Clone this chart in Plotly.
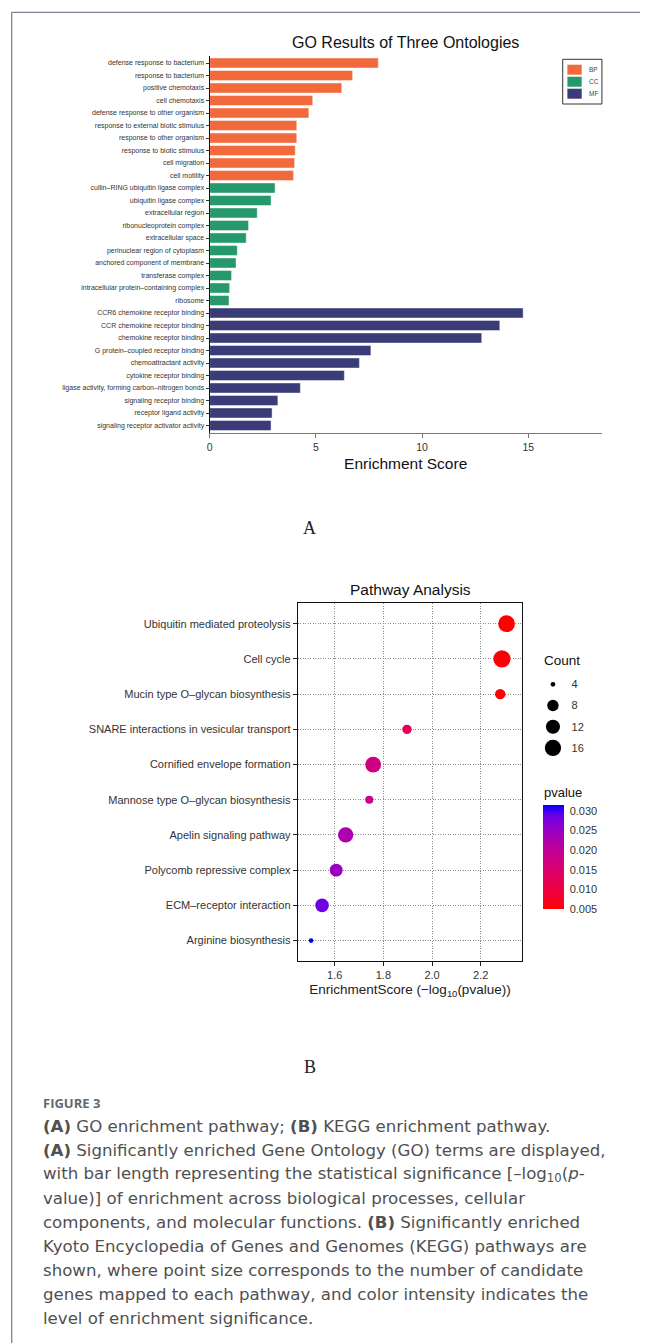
import numpy as np
import plotly.graph_objects as go

# page body has an 8px margin; the figure fills the rest of the 648x1343 window
OFF = 8
W, H = 648 - OFF, 1343 - OFF

# ---------------- DATA ----------------
go_terms = [
    "defense response to bacterium", "response to bacterium", "positive chemotaxis",
    "cell chemotaxis", "defense response to other organism",
    "response to external biotic stimulus", "response to other organism",
    "response to biotic stimulus", "cell migration", "cell motility",
    "cullin\u2013RING ubiquitin ligase complex", "ubiquitin ligase complex",
    "extracellular region", "ribonucleoprotein complex", "extracellular space",
    "perinuclear region of cytoplasm", "anchored component of membrane",
    "transferase complex", "intracellular protein\u2013containing complex", "ribosome",
    "CCR6 chemokine receptor binding", "CCR chemokine receptor binding",
    "chemokine receptor binding", "G protein\u2013coupled receptor binding",
    "chemoattractant activity", "cytokine receptor binding",
    "ligase activity, forming carbon\u2013nitrogen bonds", "signaling receptor binding",
    "receptor ligand activity", "signaling receptor activator activity",
]
go_scores = [7.94, 6.73, 6.22, 4.85, 4.67, 4.10, 4.10, 4.03, 4.00, 3.95,
             3.08, 2.89, 2.24, 1.83, 1.72, 1.30, 1.24, 1.03, 0.94, 0.91,
             14.76, 13.66, 12.81, 7.59, 7.05, 6.34, 4.27, 3.21, 2.94, 2.89]
go_ontology = ["BP"] * 10 + ["CC"] * 10 + ["MF"] * 10
ontologies = ["BP", "CC", "MF"]
onto_colors = {"BP": "#F26A3B", "CC": "#25996C", "MF": "#3A3C78"}
go_xticks = [0, 5, 10, 15]

kegg_paths = [
    "Ubiquitin mediated proteolysis", "Cell cycle", "Mucin type O\u2013glycan biosynthesis",
    "SNARE interactions in vesicular transport", "Cornified envelope formation",
    "Mannose type O\u2013glycan biosynthesis", "Apelin signaling pathway",
    "Polycomb repressive complex", "ECM\u2013receptor interaction", "Arginine biosynthesis",
]
kegg_scores = [2.306, 2.287, 2.280, 1.897, 1.758, 1.742, 1.645, 1.606, 1.548, 1.503]
kegg_counts = [17, 18, 7, 6, 15, 5, 14, 10, 11, 4]
count_legend = [4, 8, 12, 16]
kegg_xticks = [1.6, 1.8, 2.0, 2.2]
pvalue_ticks = [0.005, 0.010, 0.015, 0.020, 0.025, 0.030]

kegg_p = [10 ** (-s) for s in kegg_scores]


# ---------------- helpers ----------------
def px_x(p):
    return (p - OFF) / W


def px_y(p):
    return 1 - (p - OFF) / H


def srgb_to_lab(rgb):
    c = np.array(rgb) / 255.0
    c = np.where(c > 0.04045, ((c + 0.055) / 1.055) ** 2.4, c / 12.92)
    M = np.array([[0.4124, 0.3576, 0.1805], [0.2126, 0.7152, 0.0722], [0.0193, 0.1192, 0.9505]])
    xyz = M @ c / np.array([0.95047, 1.0, 1.08883])
    f = np.where(xyz > 0.008856, np.cbrt(xyz), 7.787 * xyz + 16 / 116)
    return np.array([116 * f[1] - 16, 500 * (f[0] - f[1]), 200 * (f[1] - f[2])])


def lab_to_srgb(lab):
    L, a, b = lab
    fy = (L + 16) / 116
    fx = fy + a / 500
    fz = fy - b / 200
    f = np.array([fx, fy, fz])
    xyz = np.where(f ** 3 > 0.008856, f ** 3, (f - 16 / 116) / 7.787) * np.array([0.95047, 1.0, 1.08883])
    Minv = np.array([[3.2406, -1.5372, -0.4986], [-0.9689, 1.8758, 0.0415], [0.0557, -0.2040, 1.0570]])
    c = Minv @ xyz
    c = np.where(c > 0.0031308, 1.055 * np.clip(c, 0, None) ** (1 / 2.4) - 0.055, 12.92 * c)
    c = np.clip(c, 0, 1)
    return "rgb({},{},{})".format(*[int(round(v * 255)) for v in c])


lab_lo = srgb_to_lab([255, 0, 0])
lab_hi = srgb_to_lab([0, 0, 255])
colorscale = [[t, lab_to_srgb(lab_lo + (lab_hi - lab_lo) * t)] for t in np.linspace(0, 1, 11)]

cmin_c, cmax_c = min(kegg_counts), max(kegg_counts)


def size_px(c):
    s = 1 + 5 * np.sqrt((c - cmin_c) / (cmax_c - cmin_c))
    return 2.2 + 2.5 * s


SANS = "Liberation Sans, Arial, sans-serif"
CAP = "DejaVu Sans, sans-serif"
fig = go.Figure()

# ---------------- Panel A: bars ----------------
for o in ontologies:
    idx = [i for i, g in enumerate(go_ontology) if g == o]
    fig.add_trace(go.Bar(
        x=[go_scores[i] for i in idx], y=[go_terms[i] for i in idx],
        orientation="h", width=0.8, name=o,
        marker=dict(color=onto_colors[o], line=dict(color="rgba(255,255,255,0.7)", width=0.6)),
        xaxis="x", yaxis="y", showlegend=False,
    ))

# ---------------- Panel B: dots ----------------
fig.add_trace(go.Scatter(
    x=kegg_scores, y=kegg_paths, mode="markers",
    marker=dict(size=[size_px(c) for c in kegg_counts], color=kegg_p,
                colorscale=colorscale, cmin=min(kegg_p), cmax=max(kegg_p),
                line=dict(width=0), opacity=1,
                colorbar=dict(
                    x=px_x(542.3), xanchor="left", y=px_y(857.2), yanchor="middle",
                    lenmode="pixels", len=104.3, thickness=21, thicknessmode="pixels",
                    outlinewidth=0, xpad=0, ypad=0,
                    tickvals=pvalue_ticks, ticktext=["%.3f" % v for v in pvalue_ticks],
                    ticks="outside", tickcolor="rgba(0,0,0,0)", ticklen=4, tickwidth=1,
                    tickfont=dict(family=SANS, size=11, color="#333"),
                )),
    xaxis="x2", yaxis="y2", showlegend=False,
))

# count legend (size key)
fig.add_trace(go.Scatter(
    x=[0.5] * len(count_legend), y=[str(c) for c in count_legend], mode="markers",
    marker=dict(size=[size_px(c) for c in count_legend], color="#000000", line=dict(width=0), opacity=1),
    xaxis="x3", yaxis="y3", showlegend=False, hoverinfo="skip",
))

axfont = dict(family=SANS, color="#333")

fig.update_layout(
    width=W, height=H, margin=dict(l=0, r=0, t=0, b=0),
    paper_bgcolor="white", plot_bgcolor="white",
    xaxis=dict(domain=[px_x(207.6), px_x(601.5)], range=[0, 18.46],
               tickvals=go_xticks, ticks="outside", ticklen=4, tickcolor="#777",
               showline=True, linecolor="#777", linewidth=1.3, showgrid=False, zeroline=False,
               tickfont=dict(size=10.5, **axfont), anchor="y",
               title=dict(text="Enrichment Score", font=dict(family=SANS, size=15.5, color="#111"), standoff=6)),
    yaxis=dict(domain=[px_y(433), px_y(55.5)], type="category", categoryarray=go_terms,
               range=[29.6, -0.6], ticks="outside", ticklen=3, tickcolor="#333",
               showline=True, linecolor="#111", linewidth=1.2, showgrid=False,
               tickfont=dict(size=7, **axfont), anchor="x"),
    xaxis2=dict(domain=[px_x(296.3), px_x(521.3)], range=[1.449, 2.369],
                tickvals=kegg_xticks, ticktext=["%.1f" % v for v in kegg_xticks],
                ticks="outside", ticklen=4, tickcolor="#222",
                showline=True, mirror=True, linecolor="#111", linewidth=1.4,
                showgrid=True, gridcolor="#8c8c8c", griddash="1px,1.5px", gridwidth=1, zeroline=False,
                tickfont=dict(size=11, **axfont), anchor="y2",
                title=dict(text="EnrichmentScore (\u2212log<sub>10</sub>(pvalue))",
                           font=dict(family=SANS, size=13.5, color="#222"), standoff=4)),
    yaxis2=dict(domain=[px_y(961), px_y(603.3)], type="category", categoryarray=kegg_paths,
                range=[9.58, -0.58], ticks="outside", ticklen=4, tickcolor="#222",
                showline=True, mirror=True, linecolor="#111", linewidth=1.4,
                showgrid=True, gridcolor="#8c8c8c", griddash="1px,1.5px", gridwidth=1,
                tickfont=dict(size=11, **axfont), anchor="x2"),
    xaxis3=dict(domain=[px_x(540), px_x(565)], range=[0, 1], visible=False, anchor="y3"),
    yaxis3=dict(domain=[px_y(758.5), px_y(673.7)], type="category",
                categoryarray=[str(c) for c in count_legend], range=[3.5, -0.5],
                visible=True, side="right", showline=False, showgrid=False, zeroline=False,
                ticks="outside", ticklen=3, tickcolor="rgba(0,0,0,0)",
                tickfont=dict(size=11, **axfont), anchor="x3"),
)

ann = []
shapes = []

# titles
ann.append(dict(text="GO Results of Three Ontologies", x=px_x(404.5), y=px_y(43), xref="paper", yref="paper",
                showarrow=False, xanchor="center", yanchor="middle",
                font=dict(family=SANS, size=16, color="#111")))
ann.append(dict(text="Pathway Analysis", x=px_x(409), y=px_y(589.3), xref="paper", yref="paper",
                showarrow=False, xanchor="center", yanchor="middle",
                font=dict(family=SANS, size=15.5, color="#111")))

# GO legend (key box)
shapes.append(dict(type="rect", xref="paper", yref="paper", x0=px_x(562.3), x1=px_x(601.7),
                   y0=px_y(104), y1=px_y(59.3), line=dict(color="#333", width=1), fillcolor="white"))
for k, o in enumerate(ontologies):
    yc = 69.7 + 12 * k
    shapes.append(dict(type="rect", xref="paper", yref="paper", x0=px_x(566.7), x1=px_x(581.7),
                       y0=px_y(yc + 5.3), y1=px_y(yc - 5.3), line=dict(color="white", width=0.6),
                       fillcolor=onto_colors[o]))
    ann.append(dict(text=o, x=px_x(586.3), y=px_y(yc), xref="paper", yref="paper", showarrow=False,
                    xanchor="left", yanchor="middle",
                    font=dict(family=SANS, size=6.5, color="#444")))

# legend titles
ann.append(dict(text="Count", x=px_x(541.5), y=px_y(661), xref="paper", yref="paper", showarrow=False,
                xanchor="left", yanchor="middle", font=dict(family=SANS, size=13.5, color="#111")))
ann.append(dict(text="pvalue", x=px_x(541.5), y=px_y(792), xref="paper", yref="paper", showarrow=False,
                xanchor="left", yanchor="middle", font=dict(family=SANS, size=13, color="#111")))

# panel letters
ann.append(dict(text="A", x=px_x(308), y=px_y(528), xref="paper", yref="paper", showarrow=False,
                xanchor="center", yanchor="middle", font=dict(family="Liberation Serif, serif", size=18, color="#222")))
ann.append(dict(text="B", x=px_x(308), y=px_y(1067), xref="paper", yref="paper", showarrow=False,
                xanchor="center", yanchor="middle", font=dict(family="Liberation Serif, serif", size=18, color="#222")))

# caption
ann.append(dict(text="<b>FIGURE 3</b>", x=px_x(40), y=px_y(1102.8), xref="paper", yref="paper", showarrow=False,
                xanchor="left", yanchor="middle", borderpad=0, borderwidth=0,
                font=dict(family="Open Sans, sans-serif", size=13, color="#5e6a70")))
caption = [
    "<b>(A)</b> GO enrichment pathway; <b>(B)</b> KEGG enrichment pathway.",
    "<b>(A)</b> Significantly enriched Gene Ontology (GO) terms are displayed,",
    "with bar length representing the statistical significance [\u2013log<sub>10</sub>(<i>p</i>-",
    "value)] of enrichment across biological processes, cellular",
    "components, and molecular functions. <b>(B)</b> Significantly enriched",
    "Kyoto Encyclopedia of Genes and Genomes (KEGG) pathways are",
    "shown, where point size corresponds to the number of candidate",
    "genes mapped to each pathway, and color intensity indicates the",
    "level of enrichment significance.",
]
for k, line in enumerate(caption):
    ann.append(dict(text=line, x=px_x(40.5), y=px_y(1126 + 24.08 * k), xref="paper", yref="paper",
                    showarrow=False, xanchor="left", yanchor="middle", borderpad=0, borderwidth=0,
                    font=dict(family=CAP, size=16.6, color="#505050")))

# page frame (left and top edges of the article box)
shapes.append(dict(type="line", xref="paper", yref="paper", x0=px_x(8.7), x1=px_x(8.7),
                   y0=px_y(1343), y1=px_y(12.3), line=dict(color="#7d8591", width=1.3), layer="below"))
shapes.append(dict(type="line", xref="paper", yref="paper", x0=px_x(8.7), x1=px_x(648),
                   y0=px_y(12.3), y1=px_y(12.3), line=dict(color="#7d8591", width=1.3), layer="below"))

fig.update_layout(annotations=ann, shapes=shapes)
fig.write_html("out.html")
